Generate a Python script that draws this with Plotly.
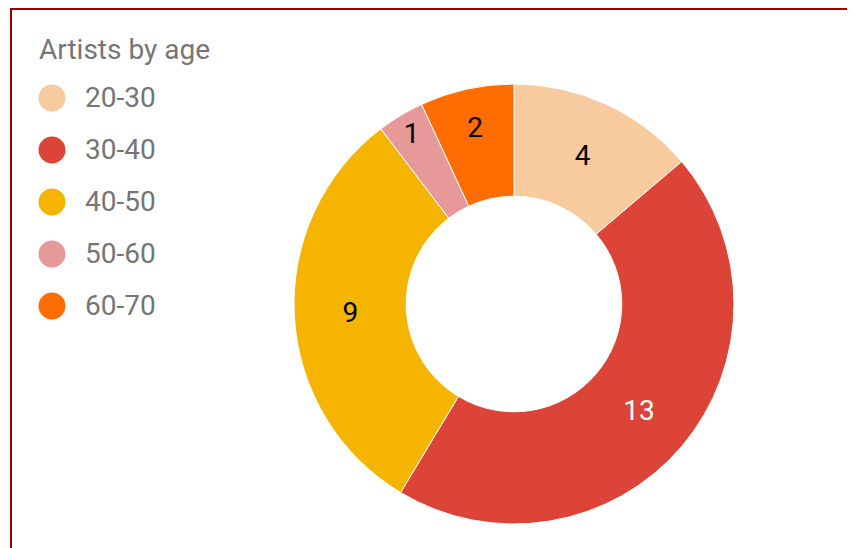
import plotly.graph_objects as go

W, H = 855, 548
OFF = 8  # page body margin, figure starts 8px in

labels = ["20-30", "30-40", "40-50", "50-60", "60-70"]
values = [4, 13, 9, 1, 2]
colors = ["#F7CB9D", "#DB4437", "#F4B400", "#E7999A", "#FF6D00"]
text_colors = ["#000000", "#ffffff", "#000000", "#000000", "#000000"]
legend_title = "Artists by age"


def px_x(x):
    return (x - OFF) / W


def px_y(y):
    return 1 - (y - OFF) / H


# donut centre / radius in page pixels
cx, cy, r = 514, 304, 220

fig = go.Figure()
fig.add_trace(
    go.Pie(
        labels=labels,
        values=values,
        hole=0.49,
        sort=False,
        direction="clockwise",
        rotation=0,
        textinfo="value",
        textposition="inside",
        insidetextorientation="horizontal",
        textfont=dict(family="Roboto", size=28, color=text_colors),
        marker=dict(colors=colors, line=dict(color="#ffffff", width=1)),
        showlegend=False,
        domain=dict(
            x=[px_x(cx - r), px_x(cx + r)],
            y=[px_y(cy + r), px_y(cy - r)],
        ),
    )
)

# hand-drawn legend with round swatches
fig.add_annotation(
    text=legend_title, x=px_x(37), y=px_y(50), xref="paper", yref="paper",
    xanchor="left", yanchor="middle", showarrow=False,
    font=dict(family="Roboto", size=28, color="#757575"),
)
for i, (lab, col) in enumerate(zip(labels, colors)):
    ym = 98 + 52 * i
    fig.add_shape(
        type="circle", xref="paper", yref="paper",
        x0=px_x(38.5), x1=px_x(65.5), y0=px_y(ym + 13.5), y1=px_y(ym - 13.5),
        fillcolor=col, line=dict(width=0),
    )
    fig.add_annotation(
        text=lab, x=px_x(83), y=px_y(ym), xref="paper", yref="paper",
        xanchor="left", yanchor="middle", showarrow=False,
        font=dict(family="Roboto", size=28, color="#757575"),
    )

# dark red frame (top and left edges)
fig.add_shape(type="line", xref="paper", yref="paper",
              x0=px_x(10), x1=1, y0=px_y(9), y1=px_y(9),
              line=dict(color="#990000", width=2))
fig.add_shape(type="line", xref="paper", yref="paper",
              x0=px_x(11), x1=px_x(11), y0=px_y(9), y1=0,
              line=dict(color="#990000", width=2))

fig.update_layout(
    width=W, height=H,
    margin=dict(l=0, r=0, t=0, b=0),
    paper_bgcolor="white", plot_bgcolor="white",
)
fig.write_html("out.html")
